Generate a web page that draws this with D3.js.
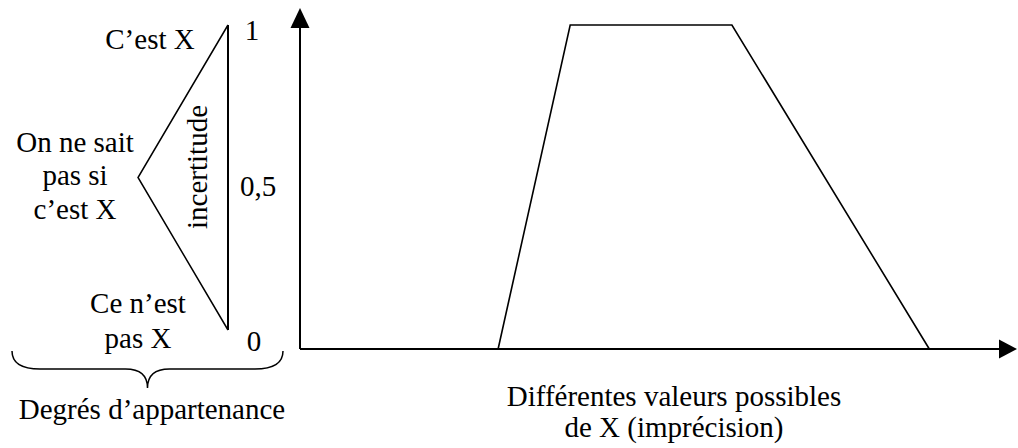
<!DOCTYPE html>
<html>
<head>
<meta charset="utf-8">
<script src="https://cdn.jsdelivr.net/npm/d3@7"></script>
<style>
  html, body { margin: 0; padding: 0; background: #fff; }
  svg { display: block; }
  text { font-family: "Liberation Serif", "Times New Roman", Times, serif; font-size: 29px; fill: #000; }
</style>
</head>
<body>
<script>
// ---- data ----
const possibleValues = [28.3, 38.6, 61.7, 89.9];   // positions along X
const membership     = [0, 1, 1, 0];               // degree of membership
const degreeTicks    = [0, 0.5, 1];
const degreeLabels   = ["0", "0,5", "1"];
const triangleDegrees = [1, 0.5, 0];
const triangleTexts  = [["C’est X"], ["On ne sait", "pas si", "c’est X"], ["Ce n’est", "pas X"]];
const xTitleLines    = ["Différentes valeurs possibles", "de X (imprécision)"];
const braceTitle     = "Degrés d’appartenance";
const triangleTitle  = "incertitude";

const W = 1018, H = 448;
const svg = d3.select("body").append("svg").attr("width", W).attr("height", H)
  .attr("font-family", "'Liberation Serif', 'Times New Roman', serif");

// ---- scales ----
const x = d3.scaleLinear().domain([0, 100]).range([300, 1000]);
const y = d3.scaleLinear().domain([0, 1]).range([349, 25]);
const yTri = d3.scaleLinear().domain([0, 1]).range([330, 25]);
const yLab = d3.scaleLinear().domain([0, 1]).range([351, 40]);

// ---- axes with arrows ----
svg.append("line").attr("x1", x(0)).attr("y1", y(0)).attr("x2", x(0)).attr("y2", 26)
  .attr("stroke", "#000").attr("stroke-width", 2);
svg.append("path").attr("d", `M${x(0)},8 L${x(0) - 9.5},28 L${x(0) + 9.5},28 Z`).attr("fill", "#000");
svg.append("line").attr("x1", x(0)).attr("y1", y(0)).attr("x2", 1000).attr("y2", y(0))
  .attr("stroke", "#000").attr("stroke-width", 2);
svg.append("path").attr("d", `M1017,${y(0)} L999,${y(0) - 9.5} L999,${y(0) + 9.5} Z`).attr("fill", "#000");

// ---- trapezoid membership function ----
const pts = possibleValues.map((v, i) => [v, membership[i]]);
svg.append("path").datum(pts)
  .attr("d", d3.line().x(d => x(d[0])).y(d => y(d[1])))
  .attr("fill", "none").attr("stroke", "#000").attr("stroke-width", 1.6);

// ---- degree labels ----
const labX = { "0": 254, "0,5": 258, "1": 252 };
svg.selectAll("text.deg").data(degreeTicks).enter().append("text")
  .attr("class", "deg")
  .attr("x", (d, i) => labX[degreeLabels[i]])
  .attr("y", d => yLab(d))
  .attr("text-anchor", "middle")
  .text((d, i) => degreeLabels[i]);

// ---- left triangle ----
const triX = 228, apexX = 138;
svg.append("line").attr("x1", triX).attr("y1", yTri(1)).attr("x2", triX).attr("y2", yTri(0))
  .attr("stroke", "#000").attr("stroke-width", 2);
svg.append("path")
  .attr("d", d3.line()([[triX, yTri(1)], [apexX, yTri(0.5)], [triX, yTri(0)]]))
  .attr("fill", "none").attr("stroke", "#000").attr("stroke-width", 1.5);

svg.append("text")
  .attr("transform", `translate(207,167) rotate(-90)`)
  .attr("text-anchor", "middle")
  .text(triangleTitle);

// triangle texts
const blockPos = [
  { cx: 150, base: [49] },
  { cx: 75, base: [152, 185, 219] },
  { cx: 138, base: [313, 348] }
];
triangleTexts.forEach((lines, k) => {
  lines.forEach((t, j) => {
    svg.append("text").attr("x", blockPos[k].cx).attr("y", blockPos[k].base[j])
      .attr("text-anchor", "middle").text(t);
  });
});

// ---- brace ----
const bL = 12, bR = 283, bM = (bL + bR) / 2, bT = 351, bH = 369, bP = 388;
svg.append("path")
  .attr("d", `M${bL},${bT} Q${bL},${bH} ${bL + 28},${bH} L${bM - 22},${bH} Q${bM},${bH} ${bM},${bP} ` +
             `Q${bM},${bH} ${bM + 22},${bH} L${bR - 28},${bH} Q${bR},${bH} ${bR},${bT}`)
  .attr("fill", "none").attr("stroke", "#000").attr("stroke-width", 1.5);
svg.append("text").attr("x", 152).attr("y", 419).attr("text-anchor", "middle").text(braceTitle);

// ---- x title ----
xTitleLines.forEach((t, i) => {
  svg.append("text").attr("x", 674).attr("y", 406 + i * 31).attr("text-anchor", "middle").text(t);
});
</script>
</body>
</html>
